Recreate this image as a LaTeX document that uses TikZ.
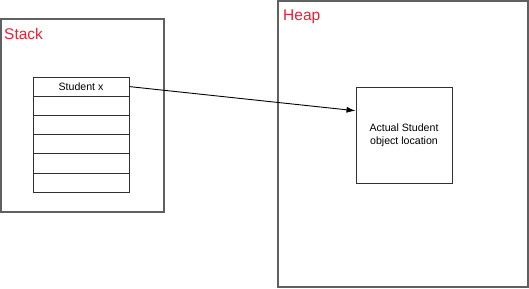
\documentclass[tikz,border=0pt]{standalone}
\usepackage{fontspec}
\setmainfont{Liberation Sans}
\usetikzlibrary{arrows.meta,calc}
\definecolor{lblred}{HTML}{E8203A}
\definecolor{framegray}{HTML}{606060}
\definecolor{cellline}{HTML}{303030}
\begin{document}
\begin{tikzpicture}[x=1bp,y=-1bp,
  region/.style={draw=framegray,line width=1.6bp,minimum width=#1},
  regionlabel/.style={text=lblred,font=\fontsize{15.5bp}{18bp}\selectfont,inner sep=0,anchor=base west},
  cell/.style={draw=cellline,line width=1bp,minimum width=96bp,minimum height=19.2bp,inner sep=0,font=\fontsize{10.6bp}{13bp}\selectfont},
  objbox/.style={draw=cellline,line width=1bp,minimum width=96bp,minimum height=96bp,inner sep=0,align=center,font=\fontsize{10.6bp}{13bp}\selectfont},
  pointer/.style={draw=black,line width=0.9bp,-{Latex[length=9bp,width=6bp]}}]
\useasboundingbox (0,0) rectangle (529,288);
\node[region=163bp,minimum height=193bp] (stack) at (82.5,115.5) {};
\node[region=250bp,minimum height=286bp] (heap) at (403,144) {};
\node[regionlabel] (stacklbl) at (4,39) {Stack};
\node[regionlabel] (heaplbl) at (283,20) {Heap};
\node[cell] (c0) at (81,86.6) {Student x};
\node[cell] (c1) at (81,105.8) {};
\node[cell] (c2) at (81,125.0) {};
\node[cell] (c3) at (81,144.2) {};
\node[cell] (c4) at (81,163.4) {};
\node[cell] (c5) at (81,182.6) {};
\node[objbox] (obj) at (404,135) {Actual Student\\object location};
\coordinate (tip) at ($(obj.north west)!0.25!(obj.south west)$);
\draw[pointer] (c0.east) -- (tip);
\end{tikzpicture}
\end{document}
